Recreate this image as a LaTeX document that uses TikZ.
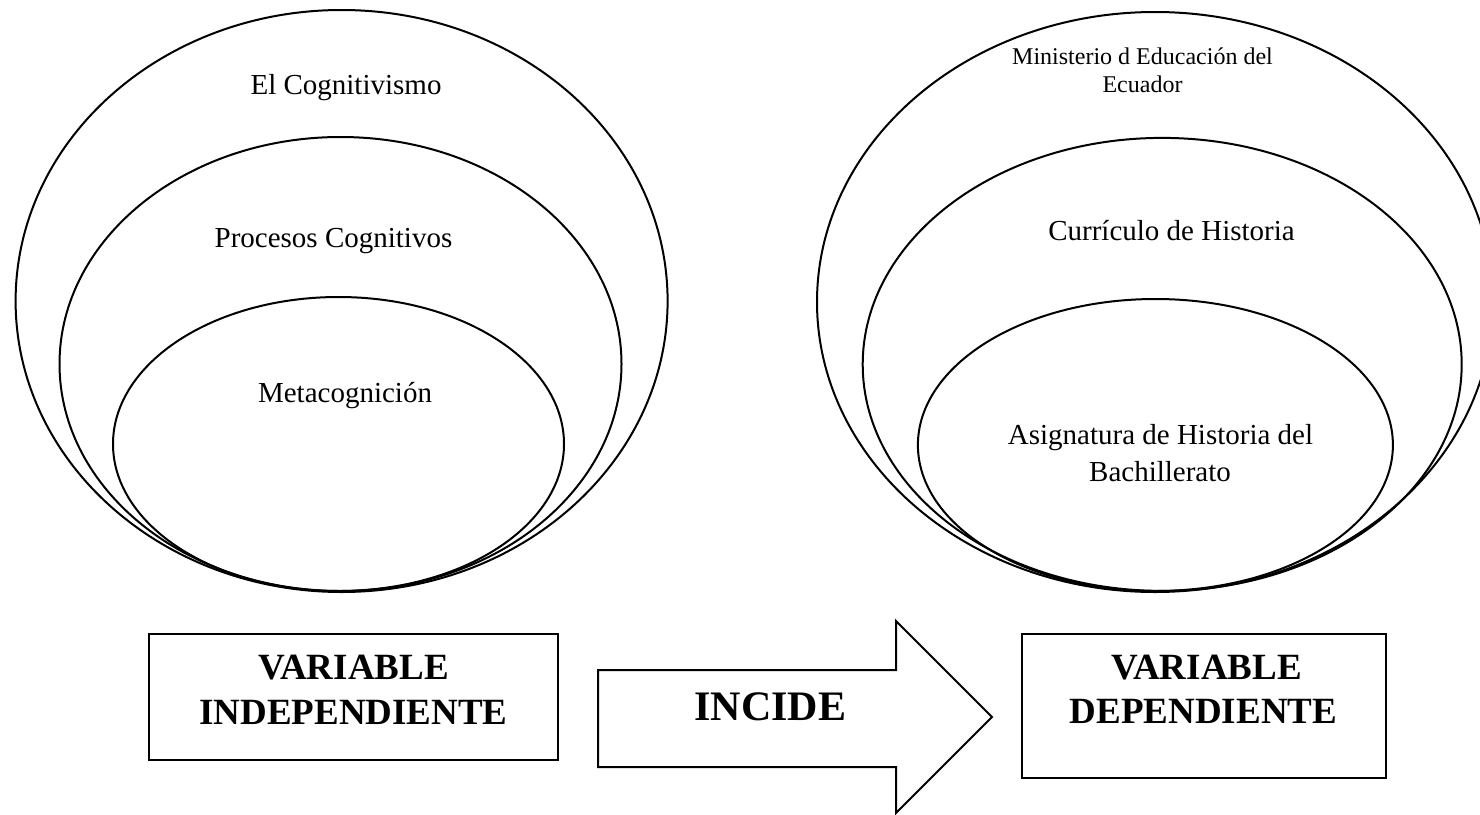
\documentclass[tikz,border=0pt]{standalone}
\usepackage{fontspec}
\setmainfont{Liberation Serif}
\usetikzlibrary{shapes.geometric}
\begin{document}
\begin{tikzpicture}[x=1pt,y=-1pt,
  ring/.style={draw, ellipse, line width=2pt, inner sep=0pt},
  vbox/.style={draw, rectangle, line width=2.2pt, inner sep=0pt},
  lbl/.style={anchor=base, inner sep=0pt, font=\fontsize{29}{36}\selectfont},
  small/.style={anchor=base, inner sep=0pt, font=\fontsize{24}{28}\selectfont},
  big/.style={anchor=base, inner sep=0pt, font=\fontsize{37}{44}\selectfont\bfseries},
  huge/.style={anchor=base, inner sep=0pt, font=\fontsize{42}{50}\selectfont\bfseries},
  arrowshape/.style={draw, line width=2pt, line join=miter}]
\useasboundingbox (0,0) rectangle (1480,814);
\fill[white] (0,0) rectangle (1480,814);
\clip (0,0) rectangle (1480,814);
% left ellipses
\node[ring, minimum width=652pt, minimum height=582pt] (lo) at (341.6,301) {};
\node[ring, minimum width=562pt, minimum height=454pt] (lm) at (340.5,364) {};
\node[ring, minimum width=451pt, minimum height=294pt] (li) at (338.5,444) {};
\node[lbl] (t1) at (346,94) {El Cognitivismo};
\node[lbl] (t2) at (333.5,247) {Procesos Cognitivos};
\node[lbl] (t3) at (345,402) {Metacognición};
% right ellipses
\node[ring, minimum width=676pt, minimum height=580pt] (ro) at (1155,302) {};
\node[ring, minimum width=599pt, minimum height=453pt] (rm) at (1162.2,364.4) {};
\node[ring, minimum width=475pt, minimum height=292pt] (ri) at (1155.4,445) {};
\node[small] (r1a) at (1142.5,64) {Ministerio d Educación del};
\node[small] (r1b) at (1142.5,92) {Ecuador};
\node[lbl] (r2) at (1171.5,240) {Currículo de Historia};
\node[lbl] (r3a) at (1160.5,444) {Asignatura de Historia del};
\node[lbl] (r3b) at (1160,481) {Bachillerato};
% boxes
\node[vbox, minimum width=409pt, minimum height=126pt] (vi) at (353.5,697) {};
\node[big] (vi1) at (353.5,679) {VARIABLE};
\node[big] (vi2) at (353.5,724) {INDEPENDIENTE};
\node[vbox, minimum width=364pt, minimum height=144pt] (vd) at (1204,706) {};
\node[big] (vd1) at (1206.5,679) {VARIABLE};
\node[big] (vd2) at (1203.5,723) {DEPENDIENTE};
% arrow
\draw[arrowshape] (598,670) -- (896,670) -- (896,621) -- (992,717) -- (896,813) -- (896,767) -- (598,767) -- cycle;
\node[huge] (incide) at (770.5,720) {INCIDE};
\end{tikzpicture}
\end{document}
